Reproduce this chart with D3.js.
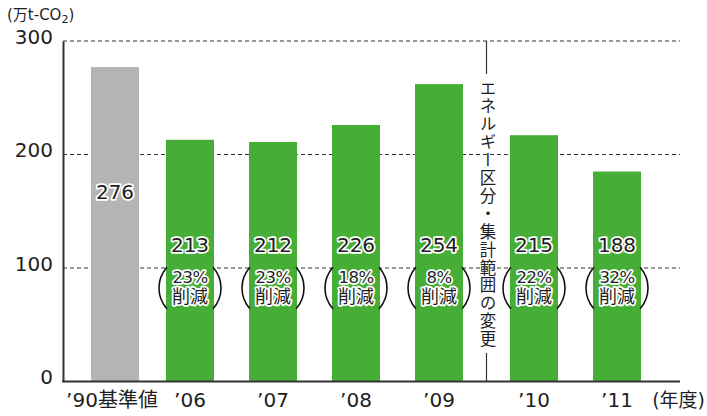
<!DOCTYPE html>
<html><head><meta charset="utf-8">
<script src="https://cdn.jsdelivr.net/npm/d3@7"></script>
<style>
html,body{margin:0;padding:0;background:#fff;}
svg{display:block;}
text{font-family:"DejaVu Sans","Noto Sans CJK JP",sans-serif;}
</style></head>
<body>
<svg id="chart" width="707" height="416"></svg>
<script>
// ---- data ----
const categories = ["’90基準値", "’06", "’07", "’08", "’09", "’10", "’11"];
const barValues = [277, 213, 211, 226, 262, 217, 185];       // bar heights as drawn
const valueLabels = ["276", "213", "212", "226", "254", "215", "188"];
const reductionLabels = [null, "23%", "23%", "18%", "8%", "22%", "32%"];
const reductionWord = "削減";
const yTicks = [0, 100, 200, 300];
const unitLabel = "(万t-CO";
const xUnitLabel = "(年度)";
const dividerText = "エネルギー区分・集計範囲の変更";
const breakAfter = "’09";

(function () {
// ---- layout ----
const svg = d3.select("#chart");
const pLeft = 63, pRight = 680, pTop = 41, pBottom = 381.5;
const green = "#46ae36", gray = "#b4b4b4", ink = "#1e1e1e";

const y = d3.scaleLinear().domain([0, 300]).range([pBottom, pTop]);
const x = d3.scaleBand().domain(categories).range([65.5, 646.5])
  .paddingInner(35 / 83).paddingOuter(35 / 166);
const breakIdx = categories.indexOf(breakAfter);
const shift = (d, i) => i === 0 ? 8 : (i > breakIdx ? 12 : 0);
const bx = (d, i) => x(d) + shift(d, i);
const bw = x.bandwidth();

// gridlines
svg.append("g").selectAll("line").data(yTicks.filter(t => t > 0)).join("line")
  .attr("x1", pLeft).attr("x2", pRight)
  .attr("y1", d => y(d)).attr("y2", d => y(d))
  .attr("stroke", "#333").attr("stroke-width", 1).attr("stroke-dasharray", "4,3");

// bars
svg.append("g").selectAll("rect").data(categories).join("rect")
  .attr("x", (d, i) => bx(d, i)).attr("width", bw)
  .attr("y", (d, i) => y(barValues[i]))
  .attr("height", (d, i) => y(0) - y(barValues[i]))
  .attr("fill", (d, i) => i === 0 ? gray : green);

// axes
const yAxis = d3.axisLeft(y).tickValues(yTicks).tickSize(0).tickPadding(10);
const gy = svg.append("g").attr("transform", `translate(${pLeft},0)`).call(yAxis);
gy.select(".domain").attr("stroke", "#333").attr("stroke-width", 2);
gy.selectAll("text").attr("font-size", 20).attr("fill", ink)
  .attr("font-family", "DejaVu Sans").attr("dy", "0.12em");

svg.append("line").attr("x1", pLeft - 1).attr("x2", pRight)
  .attr("y1", pBottom).attr("y2", pBottom).attr("stroke", "#333").attr("stroke-width", 2);

// x labels
svg.append("g").selectAll("text").data(categories).join("text")
  .attr("x", (d, i) => bx(d, i) + bw / 2 + (i === 0 ? -3 : 0))
  .attr("y", 407).attr("text-anchor", "middle")
  .attr("font-size", 20).attr("fill", ink).text(d => d);

svg.append("text").attr("x", 705).attr("y", 407).attr("text-anchor", "end")
  .attr("font-size", 19).attr("fill", ink)
  .attr("font-family", "Noto Sans CJK JP").text(xUnitLabel);

// unit label
const ut = svg.append("text").attr("x", 7).attr("y", 20).attr("font-size", 15)
  .attr("fill", ink).attr("font-family", "Noto Sans CJK JP");
ut.append("tspan").text(unitLabel);
ut.append("tspan").attr("font-size", 11).attr("dy", 3).text("2");
ut.append("tspan").attr("dy", -3).text(")");

// divider
const divX = (bx(categories[breakIdx], breakIdx) + bw + bx(categories[breakIdx + 1], breakIdx + 1)) / 2;
svg.append("line").attr("x1", divX).attr("x2", divX).attr("y1", pTop).attr("y2", 74)
  .attr("stroke", "#333").attr("stroke-width", 1.2);
svg.append("line").attr("x1", divX).attr("x2", divX).attr("y1", 353).attr("y2", pBottom)
  .attr("stroke", "#333").attr("stroke-width", 1.2);
svg.append("text").attr("x", divX).attr("y", 80)
  .style("writing-mode", "vertical-rl")
  .attr("font-family", "Noto Sans CJK JP")
  .attr("font-size", 16.5).attr("letter-spacing", 1.4)
  .attr("fill", ink).text(dividerText);

// value labels
const halo = sel => sel.attr("stroke", "#fff").attr("stroke-width", 3.5)
  .attr("stroke-linejoin", "round").attr("paint-order", "stroke").attr("fill", ink);

svg.append("g").selectAll("text").data(categories).join("text")
  .attr("x", (d, i) => bx(d, i) + bw / 2)
  .attr("y", (d, i) => i === 0 ? 199 : 252)
  .attr("text-anchor", "middle").attr("font-size", 20)
  .text((d, i) => valueLabels[i]).call(halo);

// reduction labels with parentheses
const red = categories.map((d, i) => ({ d, i })).filter(o => reductionLabels[o.i]);
const g = svg.append("g").selectAll("g").data(red).join("g")
  .attr("transform", o => `translate(${bx(o.d, o.i) + bw / 2},288)`);
const r = 31, a = 42 * Math.PI / 180;
const arcR = d3.arc().innerRadius(r).outerRadius(r)
  .startAngle(Math.PI / 2 - a).endAngle(Math.PI / 2 + a);
const arcL = d3.arc().innerRadius(r).outerRadius(r)
  .startAngle(-Math.PI / 2 - a).endAngle(-Math.PI / 2 + a);
g.append("path").attr("d", arcR()).attr("fill", "none").attr("stroke", "#111").attr("stroke-width", 1.6);
g.append("path").attr("d", arcL()).attr("fill", "none").attr("stroke", "#111").attr("stroke-width", 1.6);
g.append("text").attr("y", -5).attr("text-anchor", "middle").attr("font-size", 16.5)
  .attr("letter-spacing", -0.5).text(o => reductionLabels[o.i]).call(halo);
g.append("text").attr("y", 15).attr("text-anchor", "middle").attr("font-size", 18)
  .attr("font-family", "Noto Sans CJK JP").text(reductionWord).call(halo);
})();
</script>
</body></html>
